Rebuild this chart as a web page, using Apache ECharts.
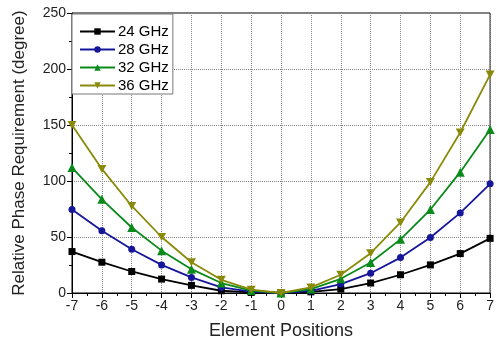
<!DOCTYPE html>
<html>
<head>
<meta charset="utf-8">
<script src="https://cdn.jsdelivr.net/npm/echarts@6/dist/echarts.min.js"></script>
<style>html,body{margin:0;padding:0;background:#fff}#c{width:497px;height:345px}</style>
</head>
<body>
<div id="c"></div>
<script>
const positions = [-7,-6,-5,-4,-3,-2,-1,0,1,2,3,4,5,6,7];
const seriesNames = ['24 GHz','28 GHz','32 GHz','36 GHz'];
const ghz24 = [37, 27.5, 19.2, 12.4, 6.8, 2.0, 0.5, 0, 1, 3.5, 8.9, 16.3, 25.1, 35.2, 48.8];
const ghz28 = [74.5, 55.6, 39, 25.1, 13.9, 5, 1.2, 0, 2, 8, 17.7, 31.6, 49.6, 71.5, 97.5];
const ghz32 = [112, 83.6, 58.5, 37.8, 21.3, 8.9, 2.2, 0, 3.5, 12.7, 27.2, 47.9, 74.5, 107.9, 146];
const ghz36 = [150, 110.8, 77.7, 50, 27.5, 11.8, 3, 0, 5, 16.3, 35.5, 63, 99, 143.3, 195];
const yTicks = [0, 50, 100, 150, 200, 250];

const colors = ['#000000', '#16169a', '#0a8a1a', '#8a8a0a'];
const symbols = ['rect', 'circle', 'triangle', 'path://M0,0 L10,0 L5,9 Z'];
const values = [ghz24, ghz28, ghz32, ghz36];

const chart = echarts.init(document.getElementById('c'), null, {renderer: 'canvas'});
const font = 'Liberation Sans, Arial, sans-serif';
chart.setOption({
  animation: false,
  textStyle: {fontFamily: font},
  grid: {left: 72, right: 5, top: 13, bottom: 50, show: true, borderColor: '#000', borderWidth: 1},
  legend: {
    orient: 'vertical', left: 72, top: 14,
    itemWidth: 35, itemHeight: 8, itemGap: 3,
    padding: [10, 4, 1, 7],
    borderColor: '#777', borderWidth: 1, backgroundColor: '#fff',
    textStyle: {fontSize: 15, color: '#000', fontFamily: font, padding: [0,0,0,-2]},
    data: seriesNames
  },
  xAxis: {
    type: 'value', min: -7, max: 7, interval: 1,
    name: 'Element Positions', nameLocation: 'middle', nameGap: 29,
    nameTextStyle: {fontSize: 18, color: '#222'},
    axisLine: {onZero: false, lineStyle: {color: '#000'}},
    axisTick: {show: true, length: 5, inside: false, lineStyle: {color: '#000'}},
    minorTick: {show: true, splitNumber: 2, length: 3, lineStyle: {color: '#000'}},
    axisLabel: {fontSize: 14, color: '#222', margin: 6},
    splitLine: {show: true, lineStyle: {color: '#888', type: [1, 1]}}
  },
  yAxis: {
    type: 'value', min: 0, max: 250, interval: 50,
    name: 'Relative Phase Requirement (degree)', nameLocation: 'middle', nameGap: 44,
    nameTextStyle: {fontSize: 17, color: '#222'},
    axisLine: {show: true, onZero: false, lineStyle: {color: '#000'}},
    axisTick: {show: true, length: 5, lineStyle: {color: '#000'}},
    minorTick: {show: true, splitNumber: 2, length: 3, lineStyle: {color: '#000'}},
    axisLabel: {fontSize: 14, color: '#222', margin: 6, formatter: v => yTicks.includes(v) ? String(v) : ''},
    splitLine: {show: true, lineStyle: {color: '#888', type: [1, 1]}}
  },
  series: seriesNames.map((n, i) => ({
    name: n, type: 'line',
    data: positions.map((x, j) => [x, values[i][j]]),
    symbol: symbols[i],
    symbolSize: i === 2 ? 9 : (i === 3 ? [9, 8] : 7),
    showAllSymbol: true,
    lineStyle: {color: colors[i], width: 1.8},
    itemStyle: {color: colors[i]},
    z: 2 + i
  }))
});
</script>
</body>
</html>
